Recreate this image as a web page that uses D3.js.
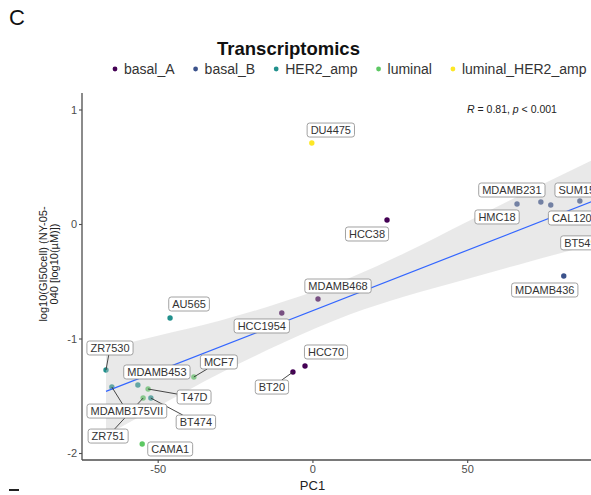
<!DOCTYPE html>
<html>
<head>
<meta charset="utf-8">
<script src="https://cdn.jsdelivr.net/npm/d3@7"></script>
<style>
  html, body { margin: 0; padding: 0; background: #fff; overflow: hidden; }
  svg { display: block; font-family: "Liberation Sans", Arial, sans-serif; }
</style>
</head>
<body>
<svg id="chart" width="591" height="495"></svg>
<script>
// Cell lines: PC1 score vs log10 GI50
const cellLines = ["ZR7530", "MDAMB175VII", "MDAMB453", "T47D", "ZR751", "BT474", "MCF7", "CAMA1",
  "AU565", "BT20", "HCC70", "HCC1954", "MDAMB468", "DU4475", "HCC38", "HMC18", "MDAMB231",
  "CAL120", "SUM159", "MDAMB436", "BT549"];
const pc1 = [-66.7, -64.8, -56.4, -53.1, -54.7, -52.2, -38.3, -55.0,
  -46.0, -6.3, -2.4, -9.9, 1.8, -0.2, 24.1, 66.1, 73.8,
  77.0, 86.4, 81.2, 94.0];
const log10GI50 = [-1.275, -1.424, -1.406, -1.441, -1.520, -1.520, -1.336, -1.921,
  -0.821, -1.293, -1.240, -0.777, -0.655, 0.707, 0.035, 0.175, 0.192,
  0.166, 0.201, -0.454, -0.06];
const subtype = ["HER2_amp", "HER2_amp", "HER2_amp", "luminal", "luminal", "HER2_amp", "luminal", "luminal",
  "HER2_amp", "basal_A", "basal_A", "basal_A", "basal_A", "luminal_HER2_amp", "basal_A", "basal_B", "basal_B",
  "basal_B", "basal_B", "basal_B", "basal_B"];

const subtypes = ["basal_A", "basal_B", "HER2_amp", "luminal", "luminal_HER2_amp"];
const subtypeColors = ["#440154", "#3B528B", "#21908C", "#5DC863", "#FDE725"];

// Linear fit and its confidence band
const fitX = [-66.7, 94];
const fitY = [-1.462, 0.235];
const bandX = [-66.7, -50, -30, -10, 12, 30, 50, 70, 94];
const bandLo = [-1.846, -1.596, -1.305, -1.044, -0.791, -0.631, -0.480, -0.329, -0.155];
const bandHi = [-1.083, -0.976, -0.845, -0.684, -0.471, -0.251, 0.020, 0.291, 0.605];

const xTicks = [-50, 0, 50];
const yTicks = [-2, -1, 0, 1];
const statText = { r: "0.81", p: "0.001" };

// Label offsets (pixels from each point) for the repelled labels
const labelNudge = {
  ZR7530: [4, -22], MDAMB175VII: [15, 24], MDAMB453: [19, -13], T47D: [46, 8],
  ZR751: [-35, 38], BT474: [45, 24], MCF7: [25, -15], CAMA1: [28, 5],
  AU565: [19, -14], BT20: [-21, 15], HCC70: [21, -14], HCC1954: [-20, 13],
  MDAMB468: [20, -13], DU4475: [19, -13], HCC38: [-20, 14], HMC18: [-20, 13],
  MDAMB231: [-29, -12], CAL120: [21, 13], SUM159: [0, -11], MDAMB436: [-19, 14],
  BT549: [-23, 12]
};

const svg = d3.select("#chart");
const panel = { left: 82, right: 591, top: 93, bottom: 460 };

const x = d3.scaleLinear().domain([-74.45, 90]).range([panel.left, panel.right]);
const y = d3.scaleLinear().domain([-2.061, 1.144]).range([panel.bottom, panel.top]);
const color = d3.scaleOrdinal().domain(subtypes).range(subtypeColors);

const data = cellLines.map((name, i) => ({ name, x: pc1[i], y: log10GI50[i], type: subtype[i] }));

// Panel letter
svg.append("text").attr("x", 9).attr("y", 25).attr("font-size", 22).attr("fill", "#111").text("C");
svg.append("rect").attr("x", 9).attr("y", 489).attr("width", 10).attr("height", 2).attr("fill", "#222");

// Title
svg.append("text").attr("x", 288.5).attr("y", 55).attr("text-anchor", "middle")
  .attr("font-size", 18.5).attr("font-weight", "bold").attr("fill", "#111").text("Transcriptomics");

// Legend
const legend = svg.append("g");
let lx = 115;
subtypes.forEach((s, i) => {
  legend.append("circle").attr("cx", lx).attr("cy", 69).attr("r", 2.4).attr("fill", subtypeColors[i]);
  const t = legend.append("text").attr("x", lx + 9).attr("y", 74).attr("font-size", 14)
    .attr("fill", "#333").text(s);
  lx += 9 + t.node().getComputedTextLength() + 21;
});

// Points
const plot = svg.append("g");
plot.selectAll("circle.pt").data(data).join("circle").attr("class", "pt")
  .attr("cx", d => x(d.x)).attr("cy", d => y(d.y)).attr("r", 2.7)
  .attr("fill", d => color(d.type));

// Confidence band over the points
const bandData = bandX.map((v, i) => ({ x: v, lo: bandLo[i], hi: bandHi[i] }));
plot.append("path").datum(bandData)
  .attr("d", d3.area().x(d => x(d.x)).y0(d => y(d.lo)).y1(d => y(d.hi)).curve(d3.curveMonotoneX))
  .attr("fill", "#c8c8c8").attr("fill-opacity", 0.4);

// Fit line
plot.append("path").datum(fitX.map((v, i) => [v, fitY[i]]))
  .attr("d", d3.line().x(d => x(d[0])).y(d => y(d[1])))
  .attr("stroke", "#3366FF").attr("stroke-width", 1.2).attr("fill", "none");

// Labels with connector segments
const segG = plot.append("g");
const labG = plot.append("g");
data.forEach(d => {
  const px = x(d.x), py = y(d.y);
  const nd = labelNudge[d.name];
  const cx = px + nd[0], cy = py + nd[1];
  const g = labG.append("g");
  const t = g.append("text").attr("x", cx).attr("y", cy + 4).attr("text-anchor", "middle")
    .attr("font-size", 11).attr("fill", "#333").text(d.name);
  const w = t.node().getComputedTextLength() + 7, h = 14;
  const bx0 = cx - w / 2, bx1 = cx + w / 2, by0 = cy - h / 2, by1 = cy + h / 2;
  g.insert("rect", "text").attr("x", bx0).attr("y", by0).attr("width", w).attr("height", h)
    .attr("rx", 2.5).attr("fill", "#fff").attr("stroke", "#8a8a8a").attr("stroke-width", 0.8);
  // nearest distance from point to box
  const nx = Math.max(bx0, Math.min(px, bx1)), ny = Math.max(by0, Math.min(py, by1));
  const dist = Math.hypot(px - nx, py - ny);
  if (dist > 8) {
    // intersection of point->centre ray with the box edge
    const dx = cx - px, dy = cy - py;
    let tMin = 1;
    [[bx0, "x"], [bx1, "x"], [by0, "y"], [by1, "y"]].forEach(([edge, axis]) => {
      const tt = axis === "x" ? (edge - px) / dx : (edge - py) / dy;
      if (tt > 0 && tt < tMin) {
        const ix = px + tt * dx, iy = py + tt * dy;
        if (ix >= bx0 - 0.01 && ix <= bx1 + 0.01 && iy >= by0 - 0.01 && iy <= by1 + 0.01) tMin = tt;
      }
    });
    segG.append("line").attr("x1", px).attr("y1", py)
      .attr("x2", px + tMin * dx).attr("y2", py + tMin * dy)
      .attr("stroke", "#333").attr("stroke-width", 0.9);
  }
});

// Correlation annotation
const stat = svg.append("text").attr("x", 467).attr("y", 113).attr("font-size", 10.5).attr("fill", "#222");
stat.append("tspan").attr("font-style", "italic").text("R");
stat.append("tspan").text(` = ${statText.r}, `);
stat.append("tspan").attr("font-style", "italic").text("p");
stat.append("tspan").text(` < ${statText.p}`);

// Axes
const axisColor = "#4d4d4d";
const xAxis = svg.append("g").attr("transform", `translate(0,${panel.bottom})`)
  .call(d3.axisBottom(x).tickValues(xTicks).tickSize(3).tickPadding(2).tickFormat(d3.format("d")));
const yAxis = svg.append("g").attr("transform", `translate(${panel.left},0)`)
  .call(d3.axisLeft(y).tickValues(yTicks).tickSize(3).tickPadding(2).tickFormat(d3.format("d")));
[xAxis, yAxis].forEach(a => {
  a.select(".domain").attr("stroke", axisColor).attr("stroke-width", 1.3);
  a.selectAll(".tick line").attr("stroke", axisColor).attr("stroke-width", 1.1);
  a.selectAll(".tick text").attr("fill", "#4d4d4d").attr("font-size", 11)
    .attr("font-family", "Liberation Sans, Arial, sans-serif");
});
xAxis.selectAll(".tick text").text(d => d < 0 ? "-" + Math.abs(d) : d);
yAxis.selectAll(".tick text").text(d => d < 0 ? "-" + Math.abs(d) : d);
xAxis.select(".domain").attr("d", `M${panel.left},0H${panel.right}`);
yAxis.select(".domain").attr("d", `M0,${panel.top}V${panel.bottom}`);

// Axis titles
svg.append("text").attr("x", 312.5).attr("y", 490).attr("text-anchor", "middle")
  .attr("font-size", 13).attr("fill", "#222").text("PC1");
const yt = svg.append("text").attr("transform", "translate(47,264) rotate(-90)")
  .attr("text-anchor", "middle").attr("font-size", 11).attr("fill", "#222");
yt.append("tspan").attr("x", 0).attr("dy", 0).text("log10(GI50cell) (NY-05-");
yt.append("tspan").attr("x", 0).attr("dy", 11).text("040 [log10(µM)])");
</script>
</body>
</html>
